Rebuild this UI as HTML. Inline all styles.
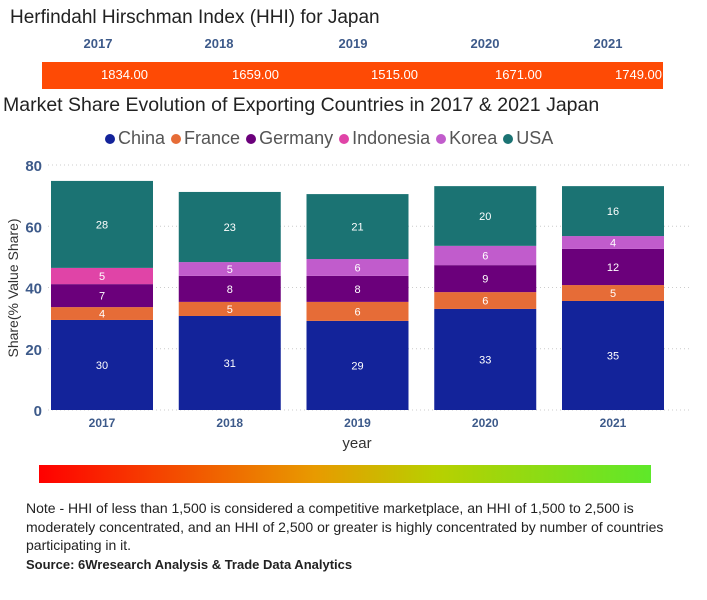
<!DOCTYPE html>
<html><head><meta charset="utf-8"><style>
body{margin:0;width:707px;height:600px;background:#fff;font-family:"Liberation Sans","DejaVu Sans",sans-serif;position:relative;overflow:hidden}
.a{position:absolute;white-space:nowrap}
</style></head><body>
<div class="a" style="left:10px;top:7px;font-size:19px;color:#222">Herfindahl Hirschman Index (HHI) for Japan</div>
<div class="a" style="left:42px;top:62px;width:621px;height:27px;background:#fe4a05"></div>
<div id="hhi"></div>
<div class="a" style="left:3px;top:94px;font-size:19.5px;color:#222">Market Share Evolution of Exporting Countries in 2017 &amp; 2021 Japan</div>
<div class="a" style="left:105px;top:128px;font-size:18px;color:#555" id="legend"></div>
<svg class="a" style="left:0;top:0" width="707" height="460" id="chart"></svg>
<div class="a" style="left:39px;top:465px;width:612px;height:18px;background:linear-gradient(90deg,#ff0000,#e89a00 45%,#b8d000 65%,#5ee82a)"></div>
<div class="a" style="left:26px;top:499px;width:670px;white-space:normal;font-size:14px;line-height:18.5px;color:#222">Note - HHI of less than 1,500 is considered a competitive marketplace, an HHI of 1,500 to 2,500 is moderately concentrated, and an HHI of 2,500 or greater is highly concentrated by number of countries participating in it.<br><b style="font-size:13px">Source: 6Wresearch Analysis &amp; Trade Data Analytics</b></div>
<script>
const years=["2017","2018","2019","2020","2021"];
const hhi=[1834,1659,1515,1671,1749];
const series=["China","France","Germany","Indonesia","Korea","USA"];
const colors=["#13239a","#e66c37","#6b007b","#e044a7","#c15ccc","#1b7373"];
const china=[29.4,30.7,29.1,33.0,35.6];
const france=[4.2,4.6,6.2,5.5,5.2];
const germany=[7.5,8.5,8.5,8.8,11.8];
const indonesia=[5.3,0,0,0,0];
const korea=[0,4.5,5.5,6.3,4.2];
const usa=[28.4,22.9,21.2,19.5,16.3];
const labelsShown=[[30,4,7,5,null,28],[31,5,8,null,5,23],[29,6,8,null,6,21],[33,6,9,null,6,20],[35,5,12,null,4,16]];
const yTicks=[0,20,40,60,80];
const data=[china,france,germany,indonesia,korea,usa];
const NS="http://www.w3.org/2000/svg";
const svg=document.getElementById('chart');
const y=v=>410-v*245/80, xc=i=>102+i*127.75, bw=102;
function mk(t,a){const e=document.createElementNS(NS,t);for(const k in a)e.setAttribute(k,a[k]);svg.appendChild(e);return e;}
yTicks.forEach(t=>{
 const l=mk('line',{x1:48,x2:690,y1:y(t),y2:y(t),stroke:'#ccc','stroke-dasharray':'1 3'});
 
 
 const tx=mk('text',{x:42,y:y(t)+6,'text-anchor':'end','font-size':15,'font-weight':'bold',fill:'#3d5a8a'});
 tx.textContent=t;
 
 
});
years.forEach((yr,i)=>{
 let base=0;
 data.forEach((s,j)=>{
  const v=s[i]; if(!v){return;}
  const r=mk('rect',{x:xc(i)-bw/2,y:y(base+v),width:bw,height:y(base)-y(base+v),fill:colors[j]});
  
  
  const lb=labelsShown[i][j];
  if(lb!=null){const t=mk('text',{x:xc(i),y:(y(base)+y(base+v))/2+4,'text-anchor':'middle','font-size':11,fill:'#fff'});t.textContent=lb;
   
   }
  base+=v;
 });
 const t=mk('text',{x:xc(i),y:427,'text-anchor':'middle','font-size':12,'font-weight':'bold',fill:'#3d5a8a'});t.textContent=yr;
 
 
});
const xt=mk('text',{x:357,y:448,'text-anchor':'middle','font-size':15,fill:'#333'});xt.textContent='year';


const yt=mk('text',{x:0,y:0,'text-anchor':'middle','font-size':14,fill:'#333',transform:'translate(18,288) rotate(-90)'});yt.textContent='Share(% Value Share)';


const lg=document.getElementById('legend');
series.forEach((s,j)=>{const sp=document.createElement('span');
 
 
 sp.style.marginRight='6px';
 sp.innerHTML='<span style="display:inline-block;width:10px;height:10px;border-radius:50%;background:'+colors[j]+';margin-right:3px"></span>'+s;lg.appendChild(sp);});
const hx=[98,219,353,485,608], hv=[148,279,418,542,662];
const hd=document.getElementById('hhi');
years.forEach((yr,i)=>{
 const a=document.createElement('div');a.className='a';a.style.cssText='left:'+(hx[i]-20)+'px;top:36px;width:40px;text-align:center;font-size:13px;font-weight:bold;color:#3d5a8a';a.textContent=yr;
 
 
 hd.appendChild(a);
 const b=document.createElement('div');b.className='a';b.style.cssText='left:'+(hv[i]-80)+'px;top:67px;width:80px;text-align:right;font-size:13px;color:#fff';b.textContent=hhi[i].toFixed(2);
 
 
 hd.appendChild(b);
});
</script>
</body></html>
